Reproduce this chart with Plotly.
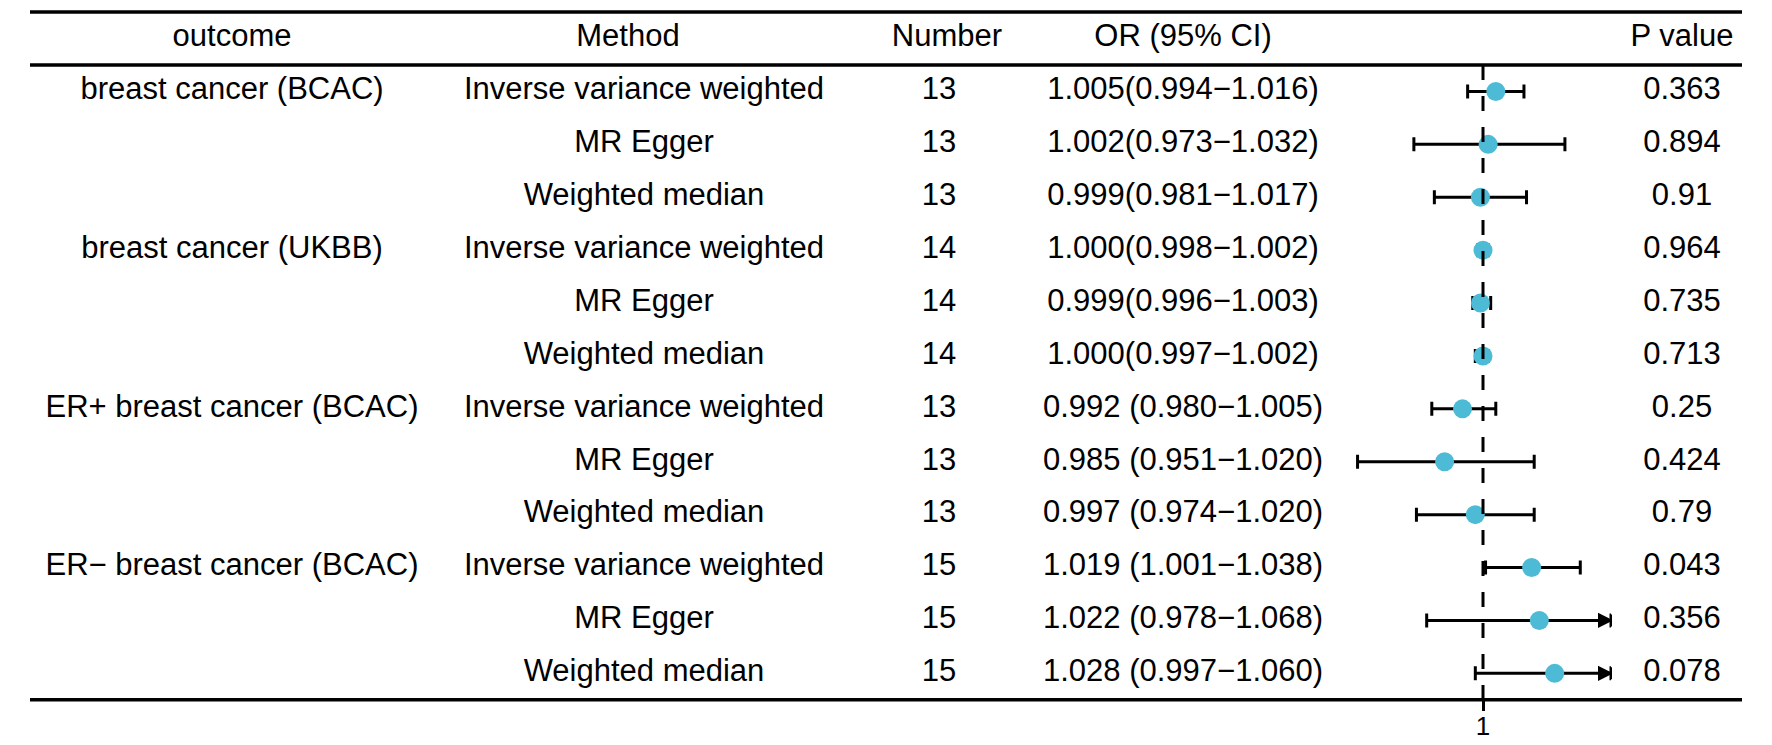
import plotly.graph_objects as go

# table data
outcome = ["breast cancer (BCAC)", "", "", "breast cancer (UKBB)", "", "",
           "ER+ breast cancer (BCAC)", "", "", "ER\u2212 breast cancer (BCAC)", "", ""]
method = ["Inverse variance weighted", "MR Egger", "Weighted median"] * 4
number = [13, 13, 13, 14, 14, 14, 13, 13, 13, 15, 15, 15]
or_est = [1.005, 1.002, 0.999, 1.000, 0.999, 1.000, 0.992, 0.985, 0.997, 1.019, 1.022, 1.028]
ci_low = [0.994, 0.973, 0.981, 0.998, 0.996, 0.997, 0.980, 0.951, 0.974, 1.001, 0.978, 0.997]
ci_high = [1.016, 1.032, 1.017, 1.002, 1.003, 1.002, 1.005, 1.020, 1.020, 1.038, 1.068, 1.060]
or_label = ["1.005(0.994\u22121.016)", "1.002(0.973\u22121.032)", "0.999(0.981\u22121.017)",
            "1.000(0.998\u22121.002)", "0.999(0.996\u22121.003)", "1.000(0.997\u22121.002)",
            "0.992 (0.980\u22121.005)", "0.985 (0.951\u22121.020)", "0.997 (0.974\u22121.020)",
            "1.019 (1.001\u22121.038)", "1.022 (0.978\u22121.068)", "1.028 (0.997\u22121.060)"]
p_value = ["0.363", "0.894", "0.91", "0.964", "0.735", "0.713",
           "0.25", "0.424", "0.79", "0.043", "0.356", "0.078"]
headers = ["outcome", "Method", "Number", "OR (95% CI)", "P value"]

xlim = [0.95, 1.05]
rows = list(range(1, len(or_est) + 1))

W, H = 1772, 745
FONT = "Liberation Sans, Arial, sans-serif"
FS = 31
BLUE = "#4DBBD5"

# column centres in pixels (x axis 1 spans the whole width in px)
col_x = [232, 644, 939, 1183, 1682]
head_x = [232, 628, 947, 1183, 1682]

fig = go.Figure()

# header row
fig.add_trace(go.Scatter(x=head_x, y=[0] * 5, text=headers, mode="text",
                         textfont=dict(family=FONT, size=FS, color="black"),
                         hoverinfo="skip", showlegend=False))

# body columns
for cx, col in zip(col_x, [outcome, method, [str(n) for n in number], or_label, p_value]):
    fig.add_trace(go.Scatter(x=[cx] * len(rows), y=rows, text=col, mode="text",
                             textfont=dict(family=FONT, size=FS, color="black"),
                             hoverinfo="skip", showlegend=False))

# forest: clip CI at the axis limits
hi_c = [min(h, xlim[1]) for h in ci_high]
lo_c = [max(l, xlim[0]) for l in ci_low]
fig.add_trace(go.Scatter(
    x=or_est, y=rows, mode="markers", xaxis="x2", yaxis="y",
    marker=dict(size=19, color=BLUE),
    error_x=dict(type="data", symmetric=False,
                 array=[h - e for h, e in zip(hi_c, or_est)],
                 arrayminus=[e - l for e, l in zip(or_est, lo_c)],
                 color="black", thickness=3, width=7),
    cliponaxis=False, hoverinfo="skip", showlegend=False))

# arrows for clipped intervals
clip_rows = [r for r, h in zip(rows, ci_high) if h > xlim[1]]
fig.add_trace(go.Scatter(
    x=[xlim[1]] * len(clip_rows), y=clip_rows, mode="markers", xaxis="x2", yaxis="y",
    marker=dict(symbol="arrow-bar-right", size=12, color="black",
                line=dict(color="black", width=2)),
    cliponaxis=False, hoverinfo="skip", showlegend=False))

# table rules
y_top, y_head, y_bot = -0.5, 0.5, len(rows) + 0.5
for yy in [y_top, y_head, y_bot]:
    fig.add_shape(type="line", xref="x", yref="y", x0=30, x1=1742, y0=yy, y1=yy,
                  line=dict(color="black", width=3.5))

# reference line at OR = 1
fig.add_shape(type="line", xref="x2", yref="y", x0=1, x1=1, y0=y_head, y1=y_bot,
              line=dict(color="black", width=3, dash="15px,16px"))

row_h = 52.9
y_px_head = 65
y0 = y_head - y_px_head / row_h
y1 = y_head + (H - y_px_head) / row_h

forest_l, forest_r = 1355, 1611
fig.update_layout(
    width=W, height=H, autosize=False,
    margin=dict(l=0, r=0, t=0, b=0),
    paper_bgcolor="white", plot_bgcolor="white",
    xaxis=dict(domain=[0, 1], range=[0, W], visible=False),
    xaxis2=dict(domain=[forest_l / W, forest_r / W], range=xlim, anchor="free",
                position=(H - 700) / H, showgrid=False, zeroline=False, showline=False,
                tickvals=[1], ticktext=["1"], ticks="outside", ticklen=10, tickwidth=3,
                tickcolor="black", ticklabelstandoff=-7,
                tickfont=dict(family=FONT, size=26, color="black")),
    yaxis=dict(domain=[0, 1], range=[y1, y0], visible=False),
)

# drop the default page margin so the figure sits at the window's corner
fig.write_html("out.html", config={"displayModeBar": False},
               post_script="document.body.style.margin='0';document.body.style.overflow='hidden';")
